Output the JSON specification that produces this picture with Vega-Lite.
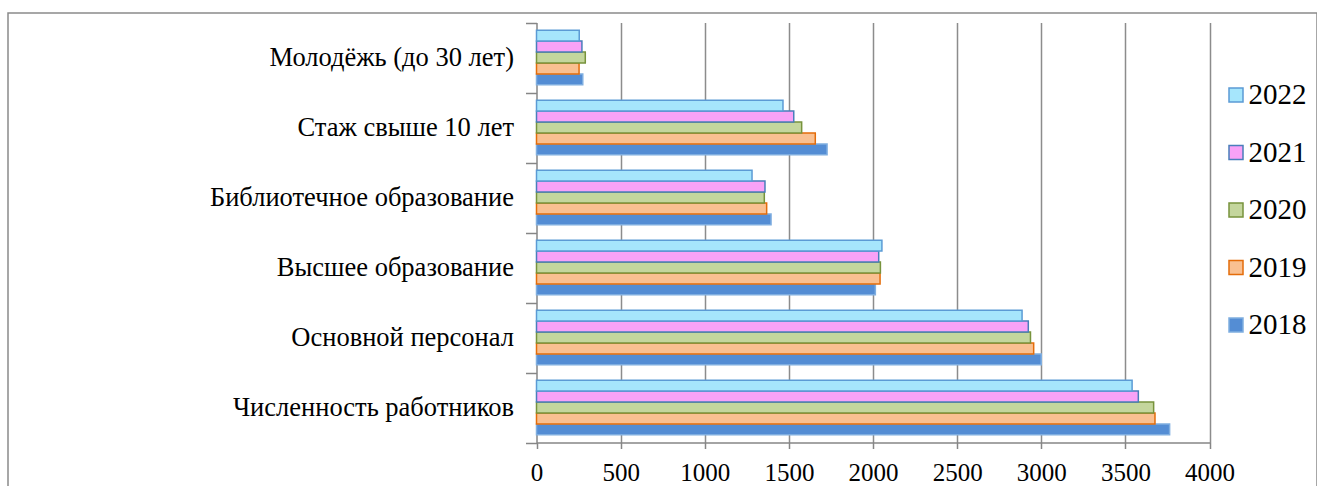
{
  "$schema": "https://vega.github.io/schema/vega-lite/v6.json",
  "autosize": {"type": "none"},
  "padding": {"left": 8, "top": 13, "right": 0, "bottom": 0},
  "width": 1309,
  "height": 480,
  "background": "white",
  "data": {
    "values": [
      {"cat": "Численность работников", "year": "2018", "value": 3763},
      {"cat": "Численность работников", "year": "2019", "value": 3676},
      {"cat": "Численность работников", "year": "2020", "value": 3668},
      {"cat": "Численность работников", "year": "2021", "value": 3577},
      {"cat": "Численность работников", "year": "2022", "value": 3540},
      {"cat": "Основной персонал", "year": "2018", "value": 3000},
      {"cat": "Основной персонал", "year": "2019", "value": 2955},
      {"cat": "Основной персонал", "year": "2020", "value": 2936},
      {"cat": "Основной персонал", "year": "2021", "value": 2923},
      {"cat": "Основной персонал", "year": "2022", "value": 2886},
      {"cat": "Высшее образование", "year": "2018", "value": 2014},
      {"cat": "Высшее образование", "year": "2019", "value": 2042},
      {"cat": "Высшее образование", "year": "2020", "value": 2044},
      {"cat": "Высшее образование", "year": "2021", "value": 2034},
      {"cat": "Высшее образование", "year": "2022", "value": 2053},
      {"cat": "Библиотечное образование", "year": "2018", "value": 1394},
      {"cat": "Библиотечное образование", "year": "2019", "value": 1368},
      {"cat": "Библиотечное образование", "year": "2020", "value": 1354},
      {"cat": "Библиотечное образование", "year": "2021", "value": 1358},
      {"cat": "Библиотечное образование", "year": "2022", "value": 1281},
      {"cat": "Стаж свыше 10 лет", "year": "2018", "value": 1727},
      {"cat": "Стаж свыше 10 лет", "year": "2019", "value": 1657},
      {"cat": "Стаж свыше 10 лет", "year": "2020", "value": 1576},
      {"cat": "Стаж свыше 10 лет", "year": "2021", "value": 1529},
      {"cat": "Стаж свыше 10 лет", "year": "2022", "value": 1465},
      {"cat": "Молодёжь (до 30 лет)", "year": "2018", "value": 275},
      {"cat": "Молодёжь (до 30 лет)", "year": "2019", "value": 253},
      {"cat": "Молодёжь (до 30 лет)", "year": "2020", "value": 290},
      {"cat": "Молодёжь (до 30 лет)", "year": "2021", "value": 270},
      {"cat": "Молодёжь (до 30 лет)", "year": "2022", "value": 254}
    ]
  },
  "resolve": {"axis": {"x": "independent"}},
  "layer": [
    {
      "mark": {"type": "bar", "opacity": 0},
      "encoding": {
        "y": {
          "field": "cat",
          "type": "nominal",
          "sort": ["Молодёжь (до 30 лет)", "Стаж свыше 10 лет", "Библиотечное образование", "Высшее образование", "Основной персонал", "Численность работников"],
          "scale": {"paddingInner": 0, "paddingOuter": 0, "range": [9.5, 429.5]},
          "axis": {
            "title": null,
            "offset": -528.5,
            "tickBand": "extent",
            "tickSize": 11,
            "tickColor": "#868686",
            "tickWidth": 1.5,
            "domainColor": "#868686",
            "domainWidth": 1.5,
            "labelFont": "Liberation Serif",
            "labelFontSize": 26.5,
            "labelColor": "black",
            "labelPadding": 12,
            "labelLimit": 0,
            "grid": false
          }
        },
        "yOffset": {
          "field": "year",
          "type": "nominal",
          "sort": ["2022", "2021", "2020", "2019", "2018"],
          "scale": {"paddingInner": 0, "paddingOuter": 0.7}
        },
        "x": {
          "field": "value",
          "type": "quantitative",
          "scale": {"domain": [0, 4000], "nice": false, "range": [528.5, 1201.5]},
          "axis": {
            "title": null,
            "orient": "top",
            "values": [500, 1000, 1500, 2000, 2500, 3000, 3500, 4000],
            "grid": true,
            "gridColor": "#8c8c8c",
            "gridWidth": 1.5,
            "labels": false,
            "ticks": false,
            "domain": false
          }
        }
      }
    },
    {
      "mark": {"type": "bar", "strokeWidth": 1.5},
      "encoding": {
        "y": {
          "field": "cat",
          "type": "nominal",
          "sort": ["Молодёжь (до 30 лет)", "Стаж свыше 10 лет", "Библиотечное образование", "Высшее образование", "Основной персонал", "Численность работников"],
          "scale": {"paddingInner": 0, "paddingOuter": 0, "range": [9.5, 429.5]},
          "axis": {
            "title": null,
            "offset": -528.5,
            "tickBand": "extent",
            "tickSize": 11,
            "tickColor": "#868686",
            "tickWidth": 1.5,
            "domainColor": "#868686",
            "domainWidth": 1.5,
            "labelFont": "Liberation Serif",
            "labelFontSize": 26.5,
            "labelColor": "black",
            "labelPadding": 12,
            "labelLimit": 0,
            "grid": false
          }
        },
        "yOffset": {
          "field": "year",
          "type": "nominal",
          "sort": ["2022", "2021", "2020", "2019", "2018"],
          "scale": {"paddingInner": 0, "paddingOuter": 0.7}
        },
        "x": {
          "field": "value",
          "type": "quantitative",
          "scale": {"domain": [0, 4000], "nice": false, "range": [528.5, 1201.5]},
          "axis": {
            "title": null,
            "offset": -50.5,
            "format": "d",
            "values": [0, 500, 1000, 1500, 2000, 2500, 3000, 3500, 4000],
            "grid": false,
            "tickColor": "#868686",
            "tickWidth": 1.5,
            "tickSize": 6,
            "domainColor": "#868686",
            "domainWidth": 1.5,
            "labelFont": "Liberation Serif",
            "labelFontSize": 25,
            "labelColor": "black",
            "labelPadding": 12,
            "labelFlush": false
          }
        },
        "fill": {
          "field": "year",
          "type": "nominal",
          "scale": {
            "domain": ["2022", "2021", "2020", "2019", "2018"],
            "range": ["#A6E6FC", "#F8A2F7", "#C4D69D", "#F9C091", "#548DD4"]
          },
          "legend": {
            "title": null,
            "orient": "none",
            "legendX": 1213.5,
            "legendY": 67.5,
            "padding": 0,
            "symbolType": "square",
            "symbolSize": 196,
            "symbolStrokeWidth": 1.5,
            "labelFont": "Liberation Serif",
            "labelFontSize": 29,
            "labelColor": "black",
            "labelOffset": -2,
            "rowPadding": 27.5
          }
        },
        "stroke": {
          "field": "year",
          "type": "nominal",
          "scale": {
            "domain": ["2022", "2021", "2020", "2019", "2018"],
            "range": ["#5B9BD5", "#4A7EBB", "#77933C", "#E46C0A", "#7FAEE0"]
          },
          "legend": null
        }
      }
    }
  ],
  "config": {"view": {"stroke": "#8a8a8a", "strokeWidth": 1.5}}
}
